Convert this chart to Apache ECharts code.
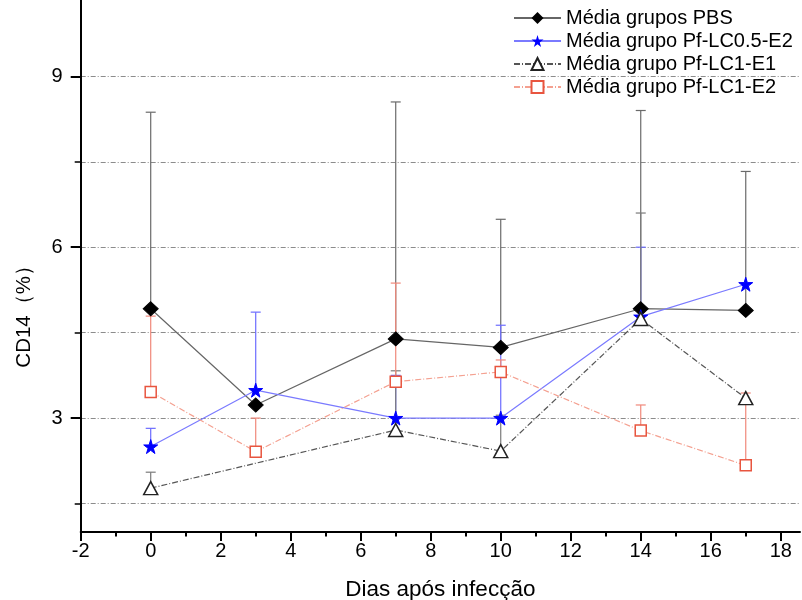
<!DOCTYPE html>
<html>
<head>
<meta charset="utf-8">
<script src="https://cdn.jsdelivr.net/npm/echarts@6/dist/echarts.min.js"></script>
<style>
html,body{margin:0;padding:0;background:#fff;}
#c{width:802px;height:600px;}
</style>
</head>
<body>
<div id="c"></div>
<script>
const days = [0, 3, 7, 10, 14, 17];
const seriesNames = ['Média grupos PBS', 'Média grupo Pf-LC0.5-E2', 'Média grupo Pf-LC1-E1', 'Média grupo Pf-LC1-E2'];
const pbsMean = [4.92, 3.23, 4.39, 4.24, 4.92, 4.89];
const pbsUpper = [8.37, null, 8.55, 6.49, 8.40, 7.33];
const lc05Mean = [2.50, 3.49, 3.00, 3.00, 4.78, 5.35];
const lc05Upper = [2.82, 4.86, 3.75, 4.63, 6.00, null];
const lc1e1Mean = [1.77, null, 2.79, 2.42, 4.74, 3.35];
const lc1e1Upper = [2.05, null, 3.83, 3.05, 6.60, null];
const lc1e2Mean = [3.46, 2.41, 3.64, 3.81, 2.78, 2.17];
const lc1e2Upper = [4.79, 3.00, 5.37, 4.02, 3.23, 3.44];
const xMajorTicks = [-2, 0, 2, 4, 6, 8, 10, 12, 14, 16, 18];
const xMinorTicks = [-1, 1, 3, 5, 7, 9, 11, 13, 15, 17];
const yMajorTicks = [3, 6, 9];
const yAllTicks = [1.5, 3, 4.5, 6, 7.5, 9];

const FONT = 'Liberation Sans, Arial, sans-serif';
const starPath = 'path://M50,0 L61,35 L98,35 L68,57 L79,91 L50,70 L21,91 L32,57 L2,35 L39,35 Z';

function pairs(xs, ys) {
  return xs.map((x, i) => [x, ys[i]]);
}
function errData(means, uppers) {
  const out = [];
  days.forEach((d, i) => {
    if (means[i] != null && uppers[i] != null) out.push([d, means[i], uppers[i]]);
  });
  return out;
}
function errSeries(means, uppers, color) {
  return {
    type: 'custom',
    xAxisIndex: 0, yAxisIndex: 0,
    silent: true, z: 1,
    data: errData(means, uppers),
    renderItem: function (params, api) {
      const p0 = api.coord([api.value(0), api.value(1)]);
      const p1 = api.coord([api.value(0), api.value(2)]);
      const hw = 5;
      return {
        type: 'group',
        children: [
          { type: 'line', shape: { x1: p0[0], y1: p0[1], x2: p1[0], y2: p1[1] }, style: { stroke: color, lineWidth: 1.2 } },
          { type: 'line', shape: { x1: p1[0] - hw, y1: p1[1], x2: p1[0] + hw, y2: p1[1] }, style: { stroke: color, lineWidth: 1.2 } }
        ]
      };
    }
  };
}

const chart = echarts.init(document.getElementById('c'), null, { renderer: 'canvas' });
const yMin = 1.0, yMax = 10.34, xMin = -2, xMax = 18.55;

chart.setOption({
  animation: false,
  backgroundColor: '#ffffff',
  textStyle: { fontFamily: FONT },
  grid: { left: 80.7, right: 2, top: 0, bottom: 68, containLabel: false, outerBoundsMode: 'none' },
  legend: {
    orient: 'vertical',
    left: 513, top: 8, padding: 0,
    itemWidth: 47, itemHeight: 15, itemGap: 3,
    textStyle: { fontSize: 20, color: '#000', fontFamily: FONT },
    data: seriesNames
  },
  xAxis: [
    {
      type: 'value', min: xMin, max: xMax,
      axisLine: { onZero: false, lineStyle: { color: '#000', width: 2 } },
      axisTick: { customValues: xMajorTicks, length: 9, lineStyle: { color: '#000', width: 2 } },
      axisLabel: { customValues: xMajorTicks, fontSize: 20, color: '#000', margin: 9, fontFamily: FONT },
      splitLine: { show: false },
      name: 'Dias após infecção', nameLocation: 'middle', nameGap: 46,
      nameTextStyle: { fontSize: 22.5, color: '#000', fontFamily: FONT }
    },
    {
      type: 'value', min: xMin, max: xMax, position: 'bottom',
      axisLine: { show: false, onZero: false },
      axisTick: { customValues: xMinorTicks, length: 4.5, lineStyle: { color: '#000', width: 2 } },
      axisLabel: { show: false },
      splitLine: { show: false }
    }
  ],
  yAxis: [
    {
      type: 'value', min: yMin, max: yMax,
      axisLine: { show: true, onZero: false, lineStyle: { color: '#000', width: 2 } },
      axisTick: { show: true, customValues: yAllTicks, length: 6, lineStyle: { color: '#000', width: 1.5 } },
      axisLabel: { show: false },
      splitLine: { show: true, customValues: yAllTicks, lineStyle: { color: '#8c8c8c', width: 1, type: [5, 2, 1, 2] } }
    },
    {
      type: 'value', min: yMin, max: yMax, position: 'left',
      axisLine: { show: false, onZero: false },
      axisTick: { show: true, customValues: yMajorTicks, length: 10, lineStyle: { color: '#000', width: 2 } },
      axisLabel: { customValues: yMajorTicks, fontSize: 20, color: '#000', margin: 18, fontFamily: FONT },
      splitLine: { show: false }
    }
  ],
  graphic: [
    {
      type: 'text', left: 14, top: 255, rotation: Math.PI / 2,
      style: { text: 'CD14（%）', fontSize: 20.5, fill: '#000', fontFamily: FONT }
    }
  ],
  series: [
    errSeries(pbsMean, pbsUpper, '#6a6a6a'),
    errSeries(lc05Mean, lc05Upper, '#6c6cff'),
    errSeries(lc1e1Mean, lc1e1Upper, '#7a7a7a'),
    errSeries(lc1e2Mean, lc1e2Upper, '#f0887a'),
    {
      name: seriesNames[0], type: 'line', xAxisIndex: 0, yAxisIndex: 0, z: 5,
      data: pairs(days, pbsMean),
      symbol: 'diamond', symbolSize: [15, 14],
      itemStyle: { color: '#000', borderColor: '#000' },
      lineStyle: { color: '#666', width: 1.2, type: 'solid' }
    },
    {
      name: seriesNames[1], type: 'line', xAxisIndex: 0, yAxisIndex: 0, z: 5,
      data: pairs(days, lc05Mean),
      symbol: starPath, symbolSize: 14,
      itemStyle: { color: '#0000ff', borderColor: '#0000ff' },
      lineStyle: { color: '#7a7aff', width: 1.2, type: 'solid' }
    },
    {
      name: seriesNames[2], type: 'line', xAxisIndex: 0, yAxisIndex: 0, z: 5,
      data: pairs(days, lc1e1Mean), connectNulls: true,
      symbol: 'triangle', symbolSize: [14, 13],
      itemStyle: { color: '#ffffff', borderColor: '#222', borderWidth: 1.5 },
      lineStyle: { color: '#555', width: 1.2, type: [6, 2, 1, 2] }
    },
    {
      name: seriesNames[3], type: 'line', xAxisIndex: 0, yAxisIndex: 0, z: 5,
      data: pairs(days, lc1e2Mean),
      symbol: 'rect', symbolSize: 11,
      itemStyle: { color: '#ffffff', borderColor: '#e8553f', borderWidth: 1.5 },
      lineStyle: { color: '#f4a090', width: 1.2, type: [6, 2, 1, 2] }
    }
  ]
});
</script>
</body>
</html>
